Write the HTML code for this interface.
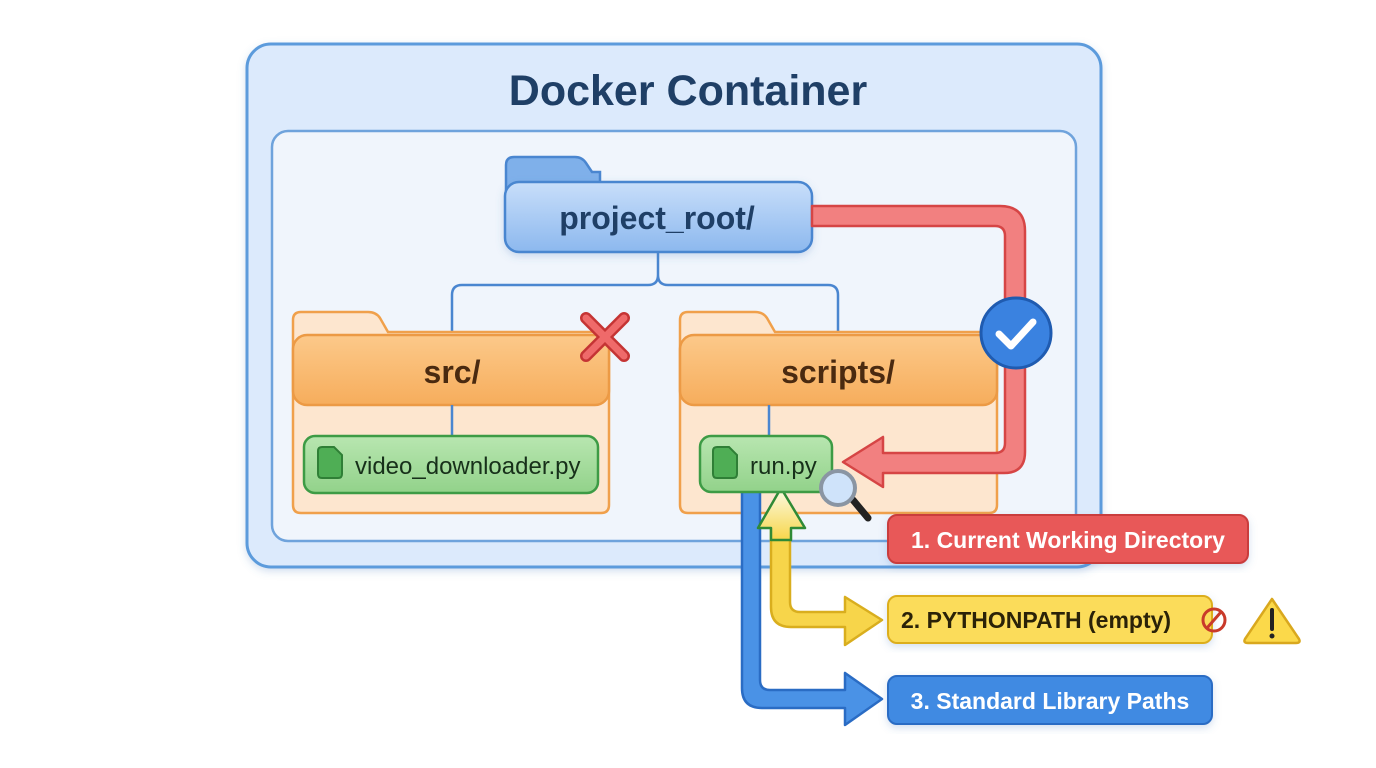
<!DOCTYPE html>
<html><head><meta charset="utf-8"><style>
html,body{margin:0;padding:0;background:#fff;}
svg{display:block;font-family:"Liberation Sans",sans-serif;}
</style></head><body>
<svg width="1376" height="768" viewBox="0 0 1376 768" xmlns="http://www.w3.org/2000/svg">
<defs>
<linearGradient id="gb" x1="0" y1="0" x2="0" y2="1"><stop offset="0" stop-color="#c8defa"/><stop offset="1" stop-color="#8cb8ee"/></linearGradient>
<linearGradient id="go" x1="0" y1="0" x2="0" y2="1"><stop offset="0" stop-color="#fcc98a"/><stop offset="1" stop-color="#f6ad5c"/></linearGradient>
<linearGradient id="gg" x1="0" y1="0" x2="0" y2="1"><stop offset="0" stop-color="#b8e6b0"/><stop offset="1" stop-color="#92d28a"/></linearGradient>
<linearGradient id="gy" x1="0" y1="0" x2="0" y2="1"><stop offset="0" stop-color="#fbfbe6"/><stop offset="1" stop-color="#f7d64a"/></linearGradient>
<filter id="sh" x="-10%" y="-10%" width="120%" height="130%"><feDropShadow dx="0" dy="3" stdDeviation="4" flood-color="#5080c0" flood-opacity="0.25"/></filter>
</defs>
<rect x="247" y="44" width="854" height="523" rx="24" fill="#dceafc" stroke="#5b9bdc" stroke-width="3" filter="url(#sh)"/>
<text x="688" y="105" text-anchor="middle" font-size="43" font-weight="bold" fill="#1f3f66">Docker Container</text>
<rect x="272" y="131" width="804" height="410" rx="16" fill="#f0f5fc" stroke="#6fa3dc" stroke-width="2.5"/>
<path d="M658 252 V275 Q658 285 648 285 H462 Q452 285 452 295 V335 M658 275 Q658 285 668 285 H828 Q838 285 838 295 V335" fill="none" stroke="#4a86d0" stroke-width="2.5"/>
<path d="M506 180 V165 Q506 157 514 157 H575 Q582 157 586 163 L592 172 H600 V190 H506Z" fill="#7fb0ea" stroke="#4a86d0" stroke-width="2.5"/>
<rect x="505" y="182" width="307" height="70" rx="14" fill="url(#gb)" stroke="#4a86d0" stroke-width="2.5" filter="url(#sh)"/>
<text x="657" y="229" text-anchor="middle" font-size="32" font-weight="bold" fill="#1f3f66">project_root/</text>
<path d="M293 335 V320 Q293 312 301 312 H368 Q376 312 380 318 L388 332 H600 Q609 332 609 341 V505 Q609 513 601 513 H301 Q293 513 293 505Z" fill="#fde6cf" stroke="#f0a04b" stroke-width="2.5"/>
<rect x="293" y="335" width="316" height="70" rx="14" fill="url(#go)" stroke="#ec9a45" stroke-width="2.5"/>
<text x="452" y="383" text-anchor="middle" font-size="32" font-weight="bold" fill="#4a2a10">src/</text>
<line x1="452" y1="405" x2="452" y2="436" stroke="#4a86d0" stroke-width="2.5"/>
<rect x="304" y="436" width="294" height="57" rx="11" fill="url(#gg)" stroke="#3d9b45" stroke-width="2.5"/>
<path d="M318 451 Q318 447 322 447 H334 L342 455 V474 Q342 478 338 478 H322 Q318 478 318 474Z" fill="#4fae55" stroke="#2f7f36" stroke-width="2"/>
<text x="355" y="474" font-size="24" fill="#17301a">video_downloader.py</text>
<g stroke="#c53434" stroke-width="12" stroke-linecap="round"><line x1="586" y1="318" x2="624" y2="356"/><line x1="624" y1="318" x2="586" y2="356"/></g>
<g stroke="#ef6a6a" stroke-width="7" stroke-linecap="round"><line x1="586" y1="318" x2="624" y2="356"/><line x1="624" y1="318" x2="586" y2="356"/></g>
<path d="M680 335 V320 Q680 312 688 312 H755 Q763 312 767 318 L775 332 H988 Q997 332 997 341 V505 Q997 513 989 513 H688 Q680 513 680 505Z" fill="#fde6cf" stroke="#f0a04b" stroke-width="2.5"/>
<rect x="680" y="335" width="317" height="70" rx="14" fill="url(#go)" stroke="#ec9a45" stroke-width="2.5"/>
<text x="838" y="383" text-anchor="middle" font-size="32" font-weight="bold" fill="#4a2a10">scripts/</text>
<line x1="769" y1="405" x2="769" y2="436" stroke="#4a86d0" stroke-width="2.5"/>
<path d="M742 490 V688 Q742 708 762 708 H845 V725 L882 699 L845 673 V690 H770 Q760 690 760 680 V490Z" fill="#4a92e6" stroke="#2a6cc4" stroke-width="2.5" stroke-linejoin="round"/>
<path d="M771 528 V607 Q771 627 791 627 H845 V645 L882 620 L845 597 V612 H800 Q790 612 790 602 V528Z" fill="#f7d54a" stroke="#d9ae1e" stroke-width="2.5" stroke-linejoin="round"/>
<path d="M771 540 V528 H758 L781 488 L805 528 H791 V540Z" fill="url(#gy)" stroke="#2f8a36" stroke-width="2.5" stroke-linejoin="round"/>
<rect x="700" y="436" width="132" height="56" rx="11" fill="url(#gg)" stroke="#3d9b45" stroke-width="2.5"/>
<path d="M713 451 Q713 447 717 447 H729 L737 455 V474 Q737 478 733 478 H717 Q713 478 713 474Z" fill="#4fae55" stroke="#2f7f36" stroke-width="2"/>
<text x="750" y="474" font-size="24" fill="#17301a">run.py</text>
<path d="M812 206 H1000 Q1025 206 1025 231 V452 Q1025 473 1004 473 H883 V487 L843 462 L883 437 V453 H995 Q1005 453 1005 443 V236 Q1005 226 995 226 H812Z" fill="#f28080" stroke="#d64545" stroke-width="2.5" stroke-linejoin="round"/>
<circle cx="1016" cy="333" r="35" fill="#3a82e0" stroke="#1f5bb0" stroke-width="3"/>
<path d="M999 334 L1011 346 L1033 322" fill="none" stroke="#fff" stroke-width="7" stroke-linecap="round" stroke-linejoin="round"/>
<line x1="853" y1="500" x2="868" y2="518" stroke="#222" stroke-width="7" stroke-linecap="round"/>
<circle cx="838" cy="488" r="17" fill="#cfe3fa" stroke="#8a95a3" stroke-width="4"/>
<rect x="888" y="515" width="360" height="48" rx="9" fill="#e85858" stroke="#c93c3c" stroke-width="2" filter="url(#sh)"/>
<text x="1068" y="548" text-anchor="middle" font-size="23" font-weight="bold" fill="#fff">1. Current Working Directory</text>
<rect x="888" y="596" width="324" height="47" rx="9" fill="#fbdc5a" stroke="#dcae1e" stroke-width="2" filter="url(#sh)"/>
<text x="901" y="628" font-size="23" font-weight="bold" fill="#2a2208">2. PYTHONPATH (empty)</text>
<circle cx="1214" cy="620" r="11" fill="none" stroke="#c93a2a" stroke-width="3"/>
<line x1="1207" y1="628" x2="1221" y2="612" stroke="#c93a2a" stroke-width="3"/>
<path d="M1272 599 L1299 639 Q1301 643 1296 643 H1248 Q1243 643 1245 639Z" fill="#fbd94a" stroke="#d9a81e" stroke-width="2.5" stroke-linejoin="round"/>
<line x1="1272" y1="610" x2="1272" y2="629" stroke="#222" stroke-width="4" stroke-linecap="round"/>
<circle cx="1272" cy="636" r="2.5" fill="#222"/>
<rect x="888" y="676" width="324" height="48" rx="9" fill="#3f8ae2" stroke="#2a6cc4" stroke-width="2" filter="url(#sh)"/>
<text x="1050" y="709" text-anchor="middle" font-size="23" font-weight="bold" fill="#fff">3. Standard Library Paths</text>
</svg>
</body></html>
